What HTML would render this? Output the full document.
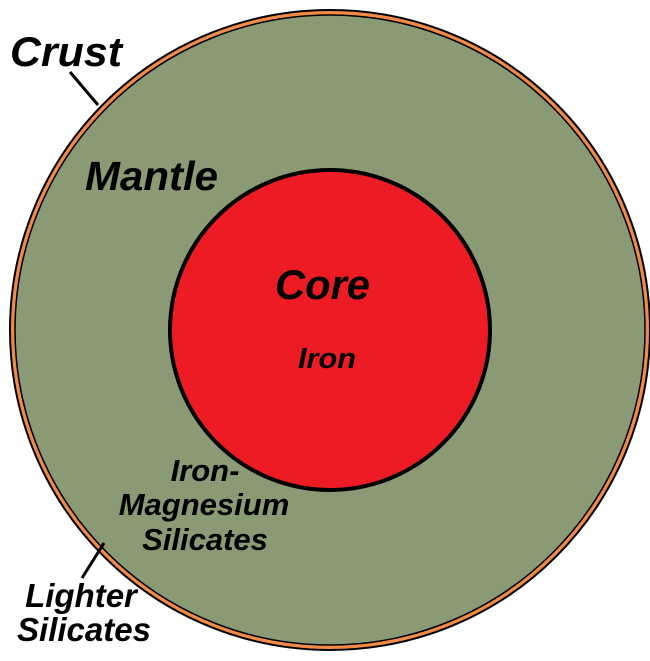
<!DOCTYPE html>
<html><head><style>body{margin:0;background:#fff}</style></head><body>
<svg width="650" height="656" viewBox="0 0 650 656" xmlns="http://www.w3.org/2000/svg" font-family="Liberation Sans, sans-serif" font-weight="bold" font-style="italic">
<circle cx="330" cy="330" r="320" fill="#f08a46" stroke="#000" stroke-width="2"/>
<circle cx="330" cy="330" r="315" fill="#8a9a74" stroke="#000" stroke-width="1.5"/>
<circle cx="330" cy="330" r="160" fill="#ed1c24" stroke="#000" stroke-width="4"/>
<line x1="70" y1="72" x2="98" y2="105" stroke="#000" stroke-width="3"/>
<line x1="82" y1="578" x2="104" y2="543" stroke="#000" stroke-width="3"/>
<text x="10" y="66" font-size="42" textLength="112" lengthAdjust="spacingAndGlyphs">Crust</text>
<text x="85" y="190" font-size="41" textLength="133" lengthAdjust="spacingAndGlyphs">Mantle</text>
<text x="275" y="299" font-size="42" textLength="95" lengthAdjust="spacingAndGlyphs">Core</text>
<text x="298" y="368" font-size="29" textLength="58" lengthAdjust="spacingAndGlyphs">Iron</text>
<g font-size="31" text-anchor="middle">
<text x="205" y="481">Iron-</text>
<text x="204" y="515">Magnesium</text>
<text x="205" y="550">Silicates</text>
</g>
<g font-size="33" text-anchor="middle">
<text x="81" y="607">Lighter</text>
<text x="84" y="641">Silicates</text>
</g>
</svg>
</body></html>
